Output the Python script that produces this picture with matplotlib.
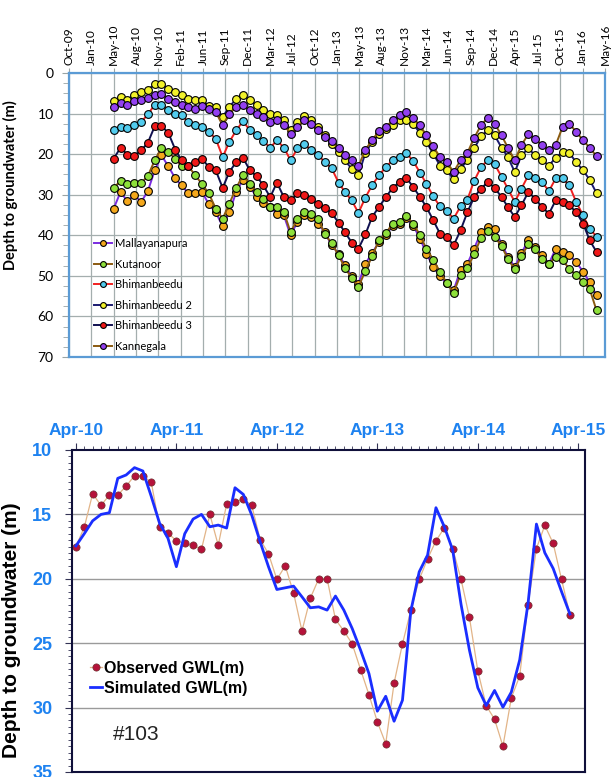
import datetime as dt
import numpy as np
import matplotlib
matplotlib.use("Agg")
import matplotlib.pyplot as plt
import matplotlib.dates as mdates
from matplotlib.ticker import FixedLocator, MultipleLocator

# ---- top panel: monthly depth readings, May-10 .. Apr-16 ----
dates = [dt.date(2010 + (4 + k) // 12, (4 + k) % 12 + 1, 1) for k in range(72)]

mallayanapura = [33.4, 29.3, 31.6, 30.0, 31.8, 29.1, 24.0, 20.3, 23.0, 26.0,
                 27.7, 29.7, 29.6, 29.3, 32.4, 34.3, 37.8, 34.3, 29.3, 26.3,
                 28.1, 30.6, 32.0, 33.0, 34.7, 35.1, 40.0, 36.7, 35.1, 35.5,
                 37.1, 39.2, 42.5, 44.5, 47.4, 50.1, 51.9, 47.0, 44.4, 41.7,
                 40.0, 37.6, 37.2, 35.8, 37.6, 40.8, 44.5, 47.8, 50.1, 51.8,
                 53.6, 48.5, 47.0, 43.3, 39.2, 38.0, 38.4, 42.1, 45.3, 47.8,
                 44.4, 41.2, 42.9, 44.9, 47.0, 43.3, 44.1, 44.9, 46.6, 49.0,
                 51.5, 54.8]
kutanoor = [28.3, 26.6, 27.3, 27.1, 27.1, 25.4, 21.5, 18.5, 19.5, 21.1,
            23.0, 23.0, 25.2, 27.4, 29.7, 33.4, 35.9, 32.2, 28.3, 25.2,
            27.4, 29.3, 31.0, 33.0, 33.0, 34.3, 39.2, 36.1, 34.3, 34.8,
            35.9, 39.6, 42.0, 44.9, 48.0, 50.5, 52.7, 48.8, 45.2, 41.2,
            39.5, 37.1, 36.7, 35.3, 37.1, 40.0, 43.3, 46.0, 49.0, 51.8,
            54.2, 49.7, 48.0, 44.7, 40.6, 38.9, 40.3, 42.7, 45.8, 48.4,
            45.1, 42.2, 43.5, 45.8, 47.0, 45.3, 46.2, 48.2, 49.9, 51.5,
            53.2, 58.5]
bhimanbeedu = [14.1, 13.3, 13.6, 12.9, 12.1, 10.2, 7.8, 7.8, 9.0, 10.0,
               10.4, 12.1, 12.9, 13.3, 14.5, 16.2, 20.7, 17.0, 14.1, 11.9,
               14.1, 15.4, 16.8, 18.4, 16.6, 18.4, 21.5, 18.6, 17.4, 19.1,
               20.3, 21.9, 23.5, 27.0, 29.3, 31.4, 34.5, 30.7, 27.7, 25.2,
               23.2, 21.5, 20.7, 19.7, 21.7, 24.6, 27.3, 30.4, 32.9, 34.0,
               35.9, 32.9, 31.2, 26.6, 23.2, 21.5, 22.5, 25.6, 28.5, 31.8,
               28.5, 25.2, 26.0, 26.9, 29.1, 26.0, 26.0, 27.7, 31.8, 35.1,
               38.4, 40.3]
bhimanbeedu2 = [6.9, 5.9, 6.6, 5.3, 4.8, 4.1, 2.8, 2.8, 3.9, 4.8,
                5.3, 6.3, 6.6, 6.6, 8.2, 8.5, 10.8, 8.4, 6.3, 5.3,
                6.7, 8.0, 9.0, 10.0, 10.4, 11.7, 14.1, 12.1, 10.7, 11.7,
                13.3, 15.4, 17.5, 19.5, 21.5, 23.6, 25.2, 19.7, 17.0, 15.1,
                13.7, 12.9, 11.7, 11.5, 12.6, 14.8, 17.0, 19.9, 22.8, 24.0,
                26.2, 23.6, 21.5, 18.6, 15.6, 14.1, 15.4, 18.4, 20.7, 24.4,
                20.3, 18.6, 20.3, 21.5, 22.8, 20.9, 19.5, 19.7, 22.0, 24.0,
                26.3, 29.6]
bhimanbeedu3 = [21.1, 18.4, 20.1, 20.4, 19.1, 17.2, 13.1, 13.0, 14.8, 18.9,
                21.5, 23.0, 21.9, 21.1, 23.2, 24.0, 28.3, 24.4, 21.9, 20.9,
                24.0, 25.5, 27.7, 30.6, 27.0, 30.6, 31.4, 29.7, 30.0, 31.0,
                32.4, 33.3, 34.5, 36.9, 39.2, 41.8, 43.3, 39.8, 35.5, 33.0,
                30.6, 28.3, 26.9, 25.8, 28.1, 30.6, 33.0, 36.3, 39.6, 40.3,
                42.5, 38.8, 34.3, 30.6, 28.5, 26.9, 28.3, 30.6, 33.0, 35.5,
                32.6, 29.3, 31.0, 33.0, 34.7, 31.4, 31.8, 32.6, 34.3, 37.1,
                41.2, 44.1]
kannegala = [8.4, 7.4, 7.8, 6.9, 6.6, 6.2, 5.5, 5.1, 6.3, 7.1,
             7.8, 8.5, 8.8, 8.2, 8.8, 9.6, 12.9, 10.0, 8.4, 8.0,
             9.2, 10.0, 10.8, 12.1, 11.5, 12.7, 15.0, 13.3, 11.7, 12.5,
             14.1, 15.8, 16.8, 18.6, 20.1, 21.5, 23.0, 18.9, 16.6, 14.3,
             13.3, 11.7, 10.3, 9.6, 11.2, 12.9, 15.4, 18.1, 20.7, 22.0,
             24.4, 21.5, 19.7, 16.0, 12.9, 11.0, 12.5, 15.4, 18.4, 21.5,
             17.8, 15.0, 16.2, 17.8, 18.9, 17.8, 13.3, 12.5, 14.5, 16.6,
             18.4, 20.5]

well_names = ["Mallayanapura", "Kutanoor", "Bhimanbeedu", "Bhimanbeedu 2",
              "Bhimanbeedu 3", "Kannegala"]
well_series = [mallayanapura, kutanoor, bhimanbeedu, bhimanbeedu2,
               bhimanbeedu3, kannegala]
marker_colors = ["#F5A81C", "#8EE03A", "#52CCEE", "#F2F22A", "#F01818", "#9340F0"]
line_colors = ["#7A2CE0", "#8A5A10", "#F02020", "#1A1A70", "#101050", "#8A5A10"]

# ---- bottom panel: well #103, monthly from Apr-10 ----
observed = [17.5, 16.0, 13.4, 14.3, 13.5, 13.5, 12.8, 12.0, 12.0, 12.5,
            16.0, 16.45, 17.05, 17.25, 17.4, 17.7, 15.0, 17.4, 14.2, 14.05,
            13.8, 14.3, 16.95, 18.05, 20.05, 19.0, 21.1, 24.05, 21.5, 20.0,
            20.0, 23.15, 24.05, 25.05, 27.05, 29.0, 31.1, 32.8, 28.1, 25.05,
            22.45, 20.05, 18.45, 17.05, 16.05, 17.65, 20.05, 23.0, 27.15, 29.85,
            30.9, 33.0, 29.25, 27.55, 22.0, 17.65, 15.85, 17.25, 20.05, 22.8]
simulated = [17.45, 16.5, 15.5, 15.0, 14.87, 12.2, 11.94, 11.37, 11.63, 13.6,
             15.7, 16.86, 19.06, 16.5, 15.36, 15.0, 15.96, 15.83, 16.06, 12.93,
             13.45, 15.05, 17.12, 19.06, 20.83, 20.7, 20.57, 21.4, 22.25, 22.18,
             22.43, 21.34, 22.43, 23.86, 25.54, 27.36, 30.28, 29.12, 31.06, 29.43,
             22.5, 19.46, 18.16, 14.48, 15.96, 17.77, 22.0, 25.54, 28.46, 29.84,
             28.67, 29.97, 28.8, 26.3, 21.9, 15.75, 17.98, 19.2, 21.0, 22.74]
year_labels = ["Apr-10", "Apr-11", "Apr-12", "Apr-13", "Apr-14", "Apr-15"]

W, H = 613, 777
fig = plt.figure(figsize=(W / 100, H / 100), dpi=100)
plt.rcParams["font.family"] = ["Lato", "DejaVu Sans"]

# ================= top panel =================
ax1 = fig.add_axes([69 / W, 1 - 357 / H, 536 / W, 284 / H])
for name, vals, mc, lc in zip(well_names, well_series, marker_colors, line_colors):
    ax1.plot(dates, vals, color=lc, lw=1.4, marker="o", ms=5.6, mfc=mc,
             mec="black", mew=0.8, label=name)

start = dt.date(2009, 10, 13)
tick_dates = [start + dt.timedelta(days=100 * k) for k in range(25)]
ax1.set_xlim(start, tick_dates[-1])
ax1.xaxis.set_major_locator(FixedLocator(mdates.date2num(tick_dates)))
ax1.xaxis.set_major_formatter(mdates.DateFormatter("%b-%y"))
ax1.xaxis.tick_top()
ax1.tick_params(axis="x", labelrotation=90, labelsize=8.6, length=3.5,
                pad=2.5, color="#9AA4A4")
ax1.set_ylim(70, 0)
ax1.yaxis.set_major_locator(MultipleLocator(10))
ax1.yaxis.set_minor_locator(MultipleLocator(2.5))
ax1.tick_params(axis="y", labelsize=10, length=5, pad=6, color="#9AA4A4")
ax1.tick_params(axis="y", which="minor", length=4, color="#9AA4A4")
ax1.grid(True, color="#A4AEAE", lw=0.9)
ax1.set_axisbelow(True)
for sp in ax1.spines.values():
    sp.set_color("#5B9BD5")
    sp.set_linewidth(1.6)
ax1.set_ylabel("Depth to groundwater (m)", fontsize=10.5, fontweight="bold")
ax1.yaxis.set_label_coords(-0.095, 0.606)
ax1.legend(loc="lower left", bbox_to_anchor=(0.047, 0.018), frameon=False,
           fontsize=8, handlelength=1.6, handletextpad=0.25, labelspacing=0.86,
           markerscale=0.75, borderaxespad=0, borderpad=0)

# ================= bottom panel =================
blue_txt = "#1E82F0"
arial = ["Liberation Sans", "DejaVu Sans"]
ax2 = fig.add_axes([71.7 / W, 1 - 772 / H, 513.3 / W, 322 / H])
months = np.arange(len(observed))
ax2.plot(months, observed, color="#E2B488", lw=0.9, marker="o", ms=5.2,
         mfc="#B5123A", mec="#6E3030", mew=0.5, label="Observed GWL(m)")
ax2.plot(months, simulated, color="#1A2EFF", lw=2.0, label="Simulated GWL(m)")
ax2.set_xlim(-0.5, 60.8)
ax2.set_ylim(35, 10)
ax2.xaxis.set_major_locator(FixedLocator(np.arange(0, 61, 12)))
ax2.xaxis.set_minor_locator(MultipleLocator(1))
ax2.set_xticklabels(year_labels)
ax2.xaxis.tick_top()
ax2.yaxis.set_major_locator(MultipleLocator(5))
ax2.yaxis.set_minor_locator(MultipleLocator(0.5))
ax2.tick_params(axis="both", which="both", direction="out", color="#333355")
ax2.tick_params(axis="x", which="major", length=5, pad=4, labelsize=12.5)
ax2.tick_params(axis="x", which="minor", length=3)
ax2.tick_params(axis="y", which="major", length=5, pad=9, labelsize=13)
ax2.tick_params(axis="y", which="minor", length=3)
for lab in ax2.get_xticklabels() + ax2.get_yticklabels():
    lab.set_color(blue_txt)
    lab.set_fontweight("bold")
    lab.set_family(arial)
for y in [15, 20, 25, 30]:
    ax2.axhline(y, color="#9A9A9A", lw=1.0, zorder=0)
for sp in ax2.spines.values():
    sp.set_color("#10103A")
    sp.set_linewidth(1.5)
ax2.set_ylabel("Depth to groundwater (m)", fontsize=15, fontweight="bold",
               family=arial)
ax2.yaxis.set_label_coords(-0.098, 0.44)
ax2.legend(loc="upper left", bbox_to_anchor=(90 / W, 1 - 661 / H),
           bbox_transform=fig.transFigure, frameon=False,
           prop={"family": arial, "weight": "bold", "size": 11.5},
           handlelength=0.75, handletextpad=0.15, labelspacing=0.3,
           borderaxespad=0, borderpad=0)
fig.text(113 / W, 1 - 734 / H, "#103", fontsize=15, family=arial,
         color="#222222", va="center", ha="left")

fig.savefig("out.png", dpi=100)
